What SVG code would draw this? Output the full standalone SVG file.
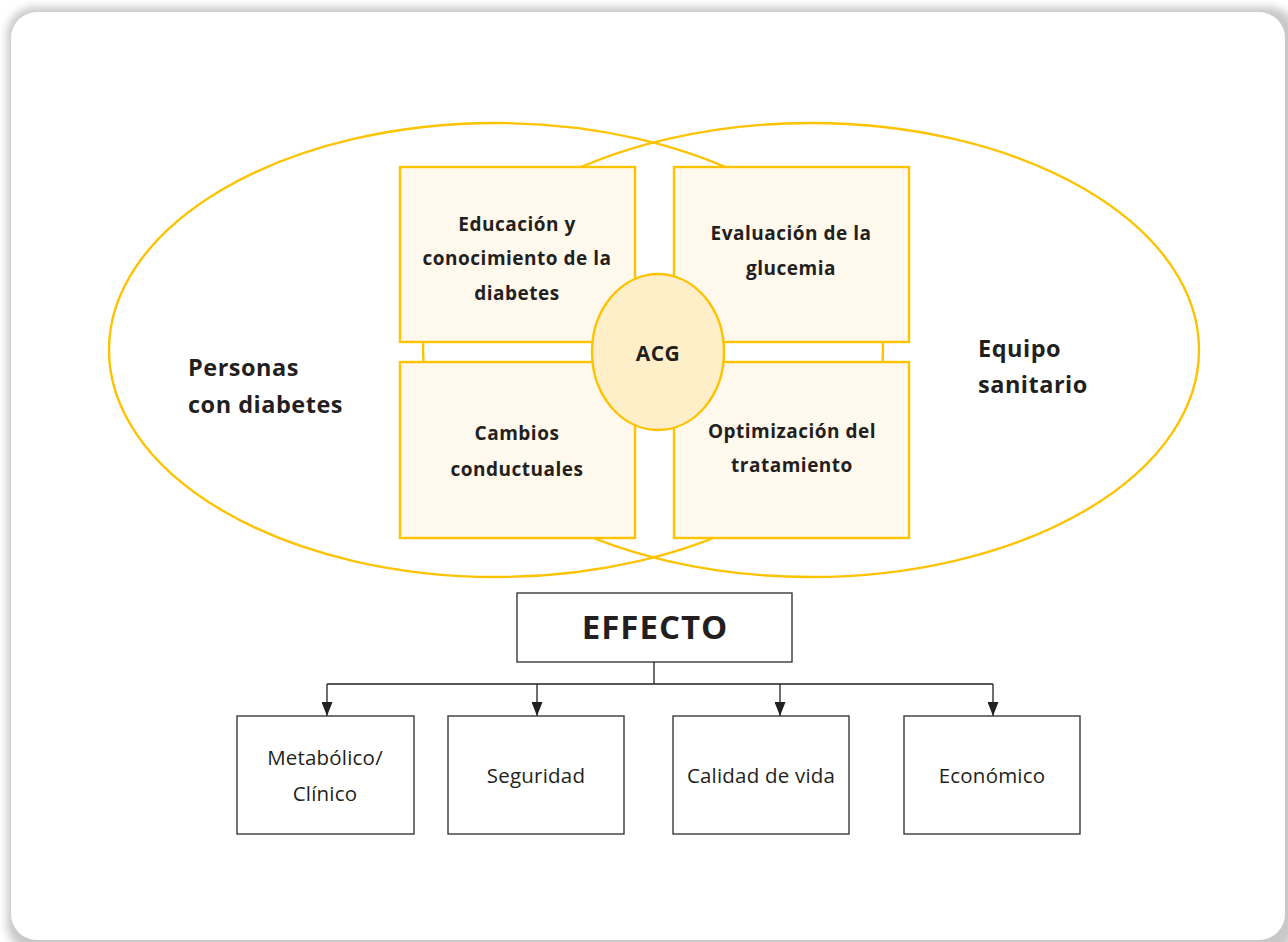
<svg xmlns="http://www.w3.org/2000/svg" width="1288" height="942" viewBox="0 0 1288 942">
<defs>
<filter id="sh" x="-5%" y="-5%" width="110%" height="110%"><feGaussianBlur stdDeviation="4"/></filter>
<marker id="ah" viewBox="0 0 14 11" refX="14" refY="5.5" markerWidth="14" markerHeight="11" markerUnits="userSpaceOnUse" orient="auto"><path d="M0,0 L14,5.5 L0,11 Z" fill="#231f20"/></marker>
</defs>
<style>
.ell{fill:none;stroke:#fdc300;stroke-width:2.4}
.yb{fill:#fff8ec;stroke:#fdc300;stroke-width:2.4}
.acg{fill:#ffefc9;stroke:#fdc300;stroke-width:2.4}
.bx{fill:#fff;stroke:#3a3a3a;stroke-width:1.4}
.t{font-family:"Open Sans","Liberation Sans",sans-serif;fill:#231f20;text-anchor:middle}
.b{font-weight:bold;font-size:19px;letter-spacing:0.5px}
.l{font-weight:bold;font-size:23.5px;letter-spacing:0.5px;text-anchor:start}
.r{font-size:20.5px;letter-spacing:0.2px}
.con{fill:none;stroke:#231f20;stroke-width:1.3}
</style>
<rect x="0" y="0" width="1288" height="942" fill="#fff"/>
<rect x="7" y="7" width="1290" height="945" rx="28" fill="#c8c8c8" filter="url(#sh)"/>
<rect x="11" y="12" width="1274" height="928" rx="26" fill="#fff"/>

<g id="ellipses">
<ellipse class="ell" cx="496" cy="350" rx="387" ry="227"/>
<ellipse class="ell" cx="811" cy="350" rx="388" ry="227"/>
</g>

<g id="node-educacion">
<rect class="yb" x="400" y="167" width="235" height="175"/>
<text class="t b" x="517" y="231">Educación y</text>
<text class="t b" x="517" y="265">conocimiento de la</text>
<text class="t b" x="517" y="300">diabetes</text>
</g>
<g id="node-evaluacion">
<rect class="yb" x="674" y="167" width="235" height="175"/>
<text class="t b" x="791" y="240">Evaluación de la</text>
<text class="t b" x="791" y="275">glucemia</text>
</g>
<g id="node-cambios">
<rect class="yb" x="400" y="362" width="235" height="176"/>
<text class="t b" x="517" y="440">Cambios</text>
<text class="t b" x="517" y="476">conductuales</text>
</g>
<g id="node-optimizacion">
<rect class="yb" x="674" y="362" width="235" height="176"/>
<text class="t b" x="792" y="438">Optimización del</text>
<text class="t b" x="792" y="472">tratamiento</text>
</g>
<g id="node-acg">
<ellipse class="acg" cx="658" cy="352" rx="66" ry="78"/>
<text class="t" x="658" y="361" font-size="21" font-weight="bold" letter-spacing="0.5">ACG</text>
</g>
<g id="node-personas">
<text class="t l" x="188" y="376">Personas</text>
<text class="t l" x="188" y="413">con diabetes</text>
</g>
<g id="node-equipo">
<text class="t l" x="978" y="357">Equipo</text>
<text class="t l" x="978" y="393">sanitario</text>
</g>

<g id="node-effecto">
<rect class="bx" x="517" y="593" width="275" height="69"/>
<text class="t" x="655" y="639" font-size="33" font-weight="bold" letter-spacing="1">EFFECTO</text>
</g>

<g id="connectors">
<path class="con" d="M654,662 V684 M327,684 H993"/>
<path class="con" d="M327,684 V716" marker-end="url(#ah)"/>
<path class="con" d="M537,684 V716" marker-end="url(#ah)"/>
<path class="con" d="M780,684 V716" marker-end="url(#ah)"/>
<path class="con" d="M993,684 V716" marker-end="url(#ah)"/>
</g>

<g id="node-metabolico">
<rect class="bx" x="237" y="716" width="177" height="118"/>
<text class="t r" x="325" y="765">Metabólico/</text>
<text class="t r" x="325" y="801">Clínico</text>
</g>
<g id="node-seguridad">
<rect class="bx" x="448" y="716" width="176" height="118"/>
<text class="t r" x="536" y="783">Seguridad</text>
</g>
<g id="node-calidad">
<rect class="bx" x="673" y="716" width="176" height="118"/>
<text class="t r" x="761" y="783">Calidad de vida</text>
</g>
<g id="node-economico">
<rect class="bx" x="904" y="716" width="176" height="118"/>
<text class="t r" x="992" y="783">Económico</text>
</g>
</svg>
